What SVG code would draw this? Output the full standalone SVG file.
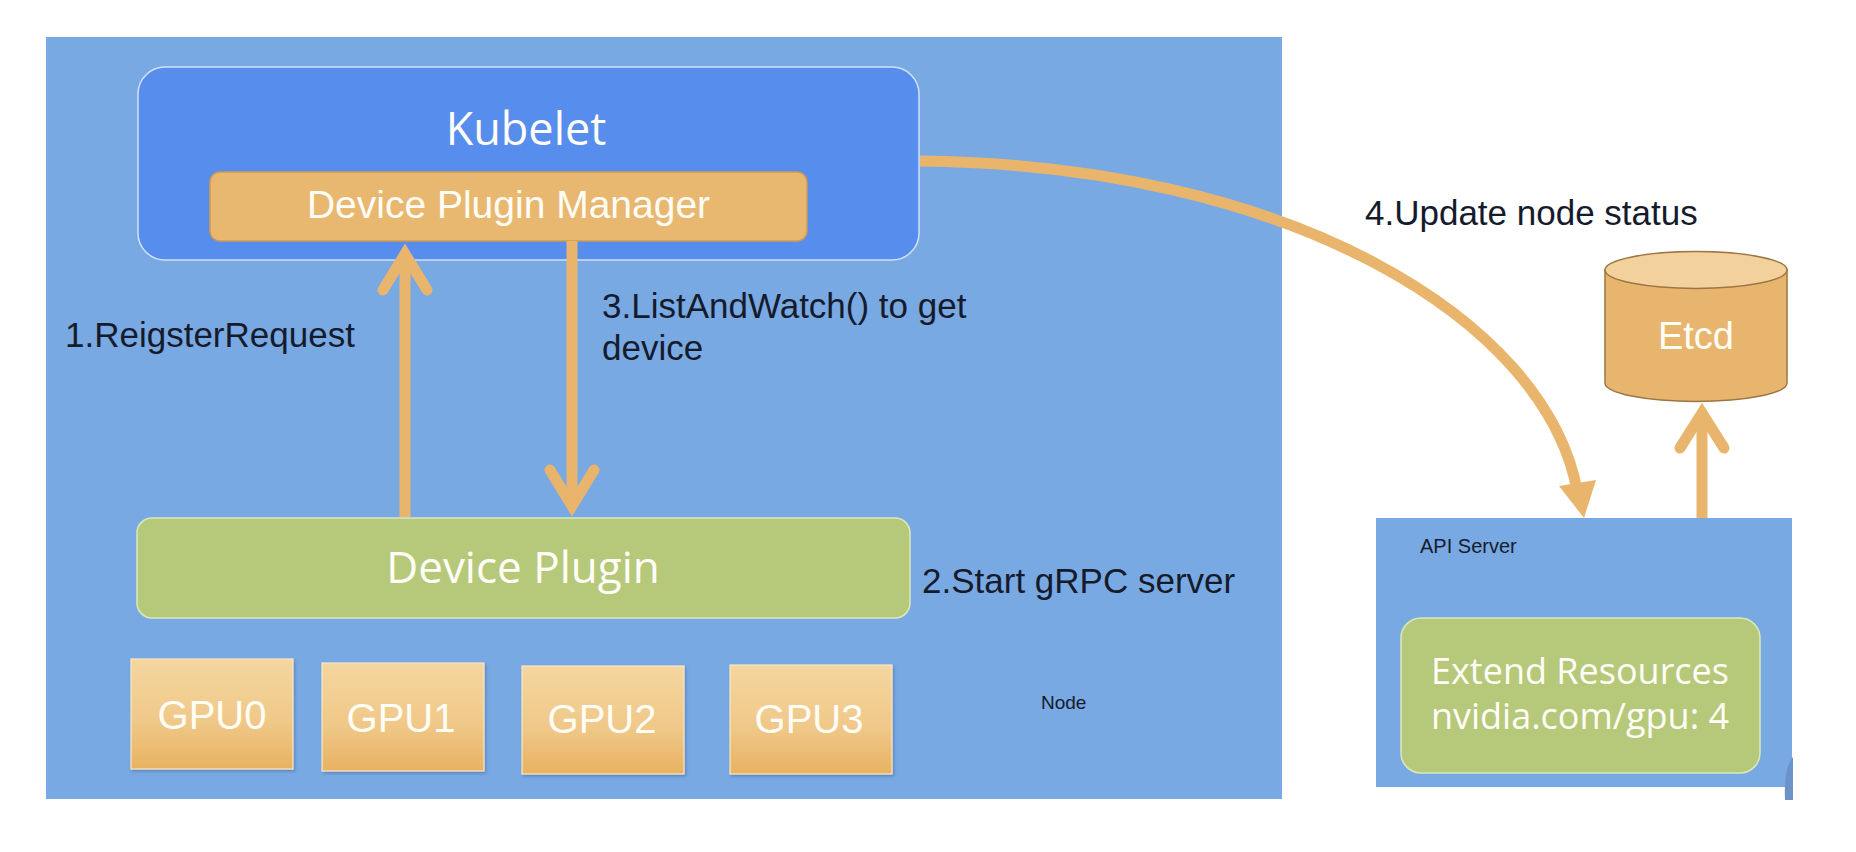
<svg xmlns="http://www.w3.org/2000/svg" width="1856" height="852" viewBox="0 0 1856 852">
  <defs>
    <linearGradient id="gpuFill" x1="0" y1="0" x2="0" y2="1">
      <stop offset="0" stop-color="#f4d69f"/>
      <stop offset="0.55" stop-color="#f0c98a"/>
      <stop offset="1" stop-color="#e8b262"/>
    </linearGradient>
    <filter id="softShadow" x="-10%" y="-10%" width="130%" height="130%">
      <feDropShadow dx="1.5" dy="2" stdDeviation="1.5" flood-color="#3d5f8f" flood-opacity="0.45"/>
    </filter>
  </defs>
  <style>
    .panel { fill: #79a9e2; }
    .kubelet { fill: #578ded; stroke: #d3e1f7; stroke-width: 1.5; }
    .dpm { fill: #e9b870; stroke: #cf9a52; stroke-width: 1.5; }
    .green { fill: #b6c97b; stroke: #dbe8ba; stroke-width: 1.5; }
    .gpu { fill: url(#gpuFill); stroke: #f8e8c8; stroke-width: 1.2; filter: url(#softShadow); }
    .cyl-body { fill: #e8b56f; stroke: #9e7542; stroke-width: 1.5; }
    .cyl-top { fill: #f2d19c; stroke: #9e7542; stroke-width: 1.5; }
    .flow { fill: none; stroke: #e9b56d; stroke-width: 11; }
    .head { fill: none; stroke: #e9b56d; stroke-width: 11; stroke-linecap: round; stroke-linejoin: miter; stroke-miterlimit: 6; }
    .head-fill { fill: #e9b56d; }
    .sans { font-family: "Liberation Sans", Arial, Helvetica, sans-serif; }
    .human { font-family: "Open Sans", "Noto Sans", sans-serif; }
    .white { fill: #fffdf6; }
    .dark { fill: #151b2c; }
  </style>

  <rect width="1856" height="852" fill="#ffffff"/>

  <!-- worker node container -->
  <g id="node-panel">
    <rect class="panel" x="46" y="37" width="1236" height="762"/>
    <text class="sans dark" x="1041" y="709" font-size="19">Node</text>
  </g>

  <!-- kubelet with its device plugin manager -->
  <g id="kubelet">
    <rect class="kubelet" x="138" y="67" width="781" height="193" rx="27"/>
    <text class="human white" x="526" y="145" font-size="45" text-anchor="middle">Kubelet</text>
  </g>
  <g id="device-plugin-manager">
    <rect class="dpm" x="210" y="172" width="597" height="69" rx="10"/>
    <text class="sans white" x="508.5" y="218" font-size="39" text-anchor="middle">Device Plugin Manager</text>
  </g>

  <!-- device plugin -->
  <g id="device-plugin">
    <rect class="green" x="137" y="518" width="773" height="100" rx="15"/>
    <text class="human white" x="523" y="583" font-size="44" text-anchor="middle">Device Plugin</text>
  </g>

  <!-- GPU devices -->
  <g id="gpu0">
    <rect class="gpu" x="131" y="659" width="162" height="110"/>
    <text class="sans white" x="212" y="729" font-size="40" text-anchor="middle">GPU0</text>
  </g>
  <g id="gpu1">
    <rect class="gpu" x="322" y="663" width="162" height="108"/>
    <text class="sans white" x="401" y="731.5" font-size="40" text-anchor="middle">GPU1</text>
  </g>
  <g id="gpu2">
    <rect class="gpu" x="522" y="666" width="162" height="108"/>
    <text class="sans white" x="602" y="733" font-size="40" text-anchor="middle">GPU2</text>
  </g>
  <g id="gpu3">
    <rect class="gpu" x="730" y="665" width="162" height="109"/>
    <text class="sans white" x="809" y="733" font-size="40" text-anchor="middle">GPU3</text>
  </g>

  <!-- API server with extended resources -->
  <g id="api-server">
    <rect class="panel" x="1376" y="518" width="416" height="269"/>
    <text class="sans dark" x="1420" y="553" font-size="20">API Server</text>
  </g>
  <g id="extend-resources">
    <rect class="green" x="1401" y="618" width="359" height="155" rx="20"/>
    <text class="human white" x="1580" y="684" font-size="36" text-anchor="middle">Extend Resources</text>
    <text class="human white" x="1580" y="729" font-size="36" text-anchor="middle">nvidia.com/gpu: 4</text>
  </g>
  <path d="M1793 757 C1787 764 1784 778 1785 800 L1793 800 Z" fill="#6b93c8"/>

  <!-- etcd store -->
  <g id="etcd">
    <path class="cyl-body" d="M1605 270 L1605 383 A91 18.5 0 0 0 1787 383 L1787 270 Z"/>
    <ellipse class="cyl-top" cx="1696" cy="270" rx="91" ry="18.5"/>
    <text class="sans white" x="1696" y="349" font-size="38" text-anchor="middle">Etcd</text>
  </g>

  <!-- connectors -->
  <g id="connectors">
    <!-- 1: register request, plugin to manager -->
    <line class="flow" x1="405" y1="517" x2="405" y2="256"/>
    <polyline class="head" points="383,290 405,254 427,290"/>
    <!-- 3: list and watch, manager to plugin -->
    <line class="flow" x1="572" y1="241" x2="572" y2="503"/>
    <polyline class="head" points="550,470 572,506 594,470"/>
    <!-- 4: update node status, kubelet to api server -->
    <path class="flow" stroke-width="10" d="M920 161 C1290 165 1545 320 1577 490"/>
    <polygon class="head-fill" points="1584,518 1559,486 1596,480"/>
    <!-- api server persists to etcd -->
    <line class="flow" x1="1702" y1="518" x2="1702" y2="416"/>
    <polyline class="head" points="1680,448 1702,413 1724,448"/>
  </g>

  <!-- step labels -->
  <g id="labels">
    <text class="sans dark" x="65" y="347" font-size="35">1.ReigsterRequest</text>
    <text class="sans dark" x="602" y="318" font-size="35">3.ListAndWatch() to get</text>
    <text class="sans dark" x="602" y="360" font-size="35">device</text>
    <text class="sans dark" x="922" y="593" font-size="35">2.Start gRPC server</text>
    <text class="sans dark" x="1365" y="225" font-size="35">4.Update node status</text>
  </g>
</svg>
